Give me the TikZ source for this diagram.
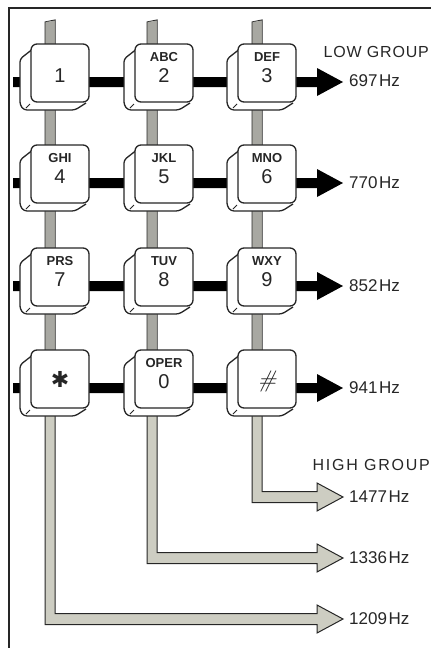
\documentclass[tikz,border=0pt]{standalone}
\usepackage{fontspec}
\setmainfont{Liberation Sans}
\newfontfamily\lowfont{Liberation Sans}[LetterSpace=5]
\newfontfamily\highfont{Liberation Sans}[LetterSpace=11]
\newfontfamily\djv{DejaVu Sans}
\newfontfamily\lmr{Latin Modern Roman}
\definecolor{pipe}{HTML}{CDCDC2}
\definecolor{pipedark}{HTML}{A8A8A2}
\definecolor{ink}{HTML}{262626}
\newcommand\keycap[5]{%
  \begin{scope}[shift={(#2,#3)}]
    \filldraw[skirt] (-26,-25) -- (-40,-14) -- (-40,32) -- (-36,37) -- (15,37) -- (26,30);
    \node[keyface] (#1) at (0,0) {};
    \draw[ink, line width=0.8pt] (-30,31) -- (-34,35);
    \node[letters] (#1l) at (0,-16) {#4};
    \node[digit] (#1d) at (0,2.5) {#5};
  \end{scope}}
\begin{document}
\begin{tikzpicture}[x=1pt,y=-1pt,
  keyface/.style={draw=ink, fill=white, line width=1.3pt, rounded corners=6pt,
    minimum width=58pt, minimum height=58pt, inner sep=0pt},
  skirt/.style={draw=ink, fill=white, line width=1.3pt, rounded corners=3pt},
  letters/.style={font=\bfseries\fontsize{13}{13}\selectfont, inner sep=0pt, text=ink},
  digit/.style={font=\fontsize{20}{20}\selectfont, inner sep=0pt, text=ink},
  hz/.style={font=\fontsize{17}{17}\selectfont, anchor=west, inner sep=0pt, text=ink},
  lowbar/.style={fill=black},
  highbar/.style={fill=pipe, draw=ink, line width=1pt},
  stub/.style={fill=pipedark},
]
\useasboundingbox (0,0) rectangle (431,648);
% frame
\draw[ink, line width=1.8pt] (9,648) -- (9,8) -- (431,8);

% arrow tips
\coordinate (t697) at (343,82);
\coordinate (t770) at (343,183);
\coordinate (t852) at (343,286);
\coordinate (t941) at (343,388);
\coordinate (t1477) at (343,497);
\coordinate (t1336) at (343,558);
\coordinate (t1209) at (343,619);

% high group pipes
\filldraw[highbar] (252,22) -- (252,502.5) -- (317,502.5) -- (317,511) -- (t1477)
  -- (317,483) -- (317,491.5) -- (262,491.5) -- (262,20) -- cycle;
\filldraw[highbar] (147,22) -- (147,563.5) -- (317,563.5) -- (317,572) -- (t1336)
  -- (317,544) -- (317,552.5) -- (157,552.5) -- (157,20) -- cycle;
\filldraw[highbar] (45,22) -- (45,624.5) -- (317,624.5) -- (317,633) -- (t1209)
  -- (317,605) -- (317,613.5) -- (55,613.5) -- (55,20) -- cycle;
% darker upper parts of the column bars
\fill[stub] (252.5,22) -- (261.5,20.5) -- (261.5,405) -- (252.5,405) -- cycle;
\fill[stub] (147.5,22) -- (156.5,20.5) -- (156.5,405) -- (147.5,405) -- cycle;
\fill[stub] (45.5,22) -- (54.5,20.5) -- (54.5,405) -- (45.5,405) -- cycle;

% low group bars
\fill[lowbar] (13,77) -- (317,77) -- (317,68) -- (t697) -- (317,96) -- (317,87) -- (13,87) -- cycle;
\fill[lowbar] (13,178) -- (317,178) -- (317,169) -- (t770) -- (317,197) -- (317,188) -- (13,188) -- cycle;
\fill[lowbar] (13,281) -- (317,281) -- (317,272) -- (t852) -- (317,300) -- (317,291) -- (13,291) -- cycle;
\fill[lowbar] (13,383) -- (317,383) -- (317,374) -- (t941) -- (317,402) -- (317,393) -- (13,393) -- cycle;

% keys
\keycap{k1}{60}{73}{}{1}
\keycap{k2}{164}{73}{ABC}{2}
\keycap{k3}{267}{73}{DEF}{3}
\keycap{k4}{60}{174}{GHI}{4}
\keycap{k5}{164}{174}{JKL}{5}
\keycap{k6}{267}{174}{MNO}{6}
\keycap{k7}{60}{277}{PRS}{7}
\keycap{k8}{164}{277}{TUV}{8}
\keycap{k9}{267}{277}{WXY}{9}
\keycap{kst}{60}{379}{}{}
\keycap{k0}{164}{379}{OPER}{0}
\keycap{khs}{267}{379}{}{}
\node[inner sep=0pt, anchor=base, font=\djv\fontsize{22}{22}\selectfont, text=ink] (star) at (60,387) {✱};
\node[inner sep=0pt, font=\lmr\itshape\fontsize{24}{24}\selectfont, text=ink] (hash) at (267,381) {\#};

% labels
\node[font=\lowfont\fontsize{16}{16}\selectfont, anchor=east, inner sep=0pt, text=ink] (low) at (429,52) {LOW GROUP};
\node[font=\highfont\fontsize{16}{16}\selectfont, anchor=east, inner sep=0pt, text=ink] (high) at (430,465) {HIGH GROUP};
\node[hz] (f697) at (349,81) {697\hspace{1.5pt}Hz};
\node[hz] (f770) at (349,183) {770\hspace{1.5pt}Hz};
\node[hz] (f852) at (349,286) {852\hspace{1.5pt}Hz};
\node[hz] (f941) at (349,388) {941\hspace{1.5pt}Hz};
\node[hz] (f1477) at (349,497) {1477\hspace{1.5pt}Hz};
\node[hz] (f1336) at (349,558) {1336\hspace{1.5pt}Hz};
\node[hz] (f1209) at (349,619) {1209\hspace{1.5pt}Hz};
\end{tikzpicture}
\end{document}
